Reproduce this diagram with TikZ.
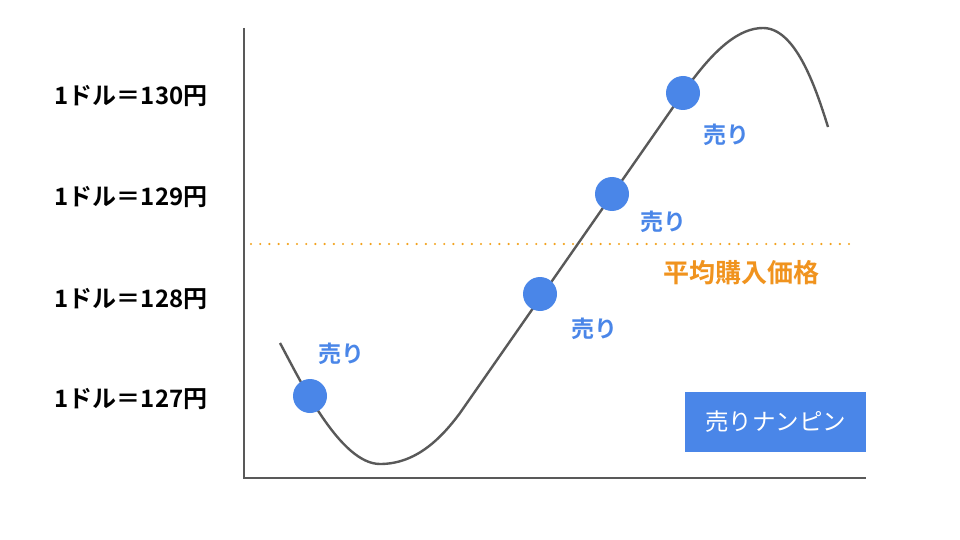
\documentclass[tikz,border=0pt]{standalone}
\usepackage{fontspec}
\newfontfamily\jp{Noto Sans CJK JP}
\newfontfamily\jpb{Noto Sans CJK JP Bold}
\definecolor{axisgray}{HTML}{595959}
\definecolor{dotblue}{HTML}{4A86E8}
\definecolor{avgorange}{HTML}{F2A21D}
\definecolor{avgtext}{HTML}{F0931E}
\tikzset{
  axis/.style={draw=axisgray, line width=2.6pt},
  curve/.style={draw=axisgray, line width=2.4pt},
  sell/.style={circle, fill=dotblue, minimum size=34pt, inner sep=0pt},
  selllabel/.style={text=dotblue, font=\jpb\fontsize{23}{23}\selectfont, inner sep=0pt},
  ylabel/.style={text=black, font=\jpb\fontsize{24}{24}\selectfont, inner sep=0pt},
  avgline/.style={draw=avgorange, line width=2.4pt, dash pattern=on 0pt off 9.2pt, line cap=round},
  avglabel/.style={text=avgtext, font=\jpb\fontsize{26}{26}\selectfont, inner sep=0pt},
  badge/.style={fill=dotblue, text=white, font=\jp\fontsize{23.5}{23.5}\selectfont, minimum width=181pt, minimum height=60pt, inner sep=0pt}
}
\begin{document}
\begin{tikzpicture}[x=1pt,y=-1pt]
\useasboundingbox (0,0) rectangle (960,540);
% axes
\coordinate (top) at (244,28);
\coordinate (origin) at (244,478);
\coordinate (right) at (866,478);
\draw[axis] (top) -- (origin) -- (right);
% y labels
\node[ylabel] (l130) at (131,96) {1ドル＝130円};
\node[ylabel] (l129) at (131,197) {1ドル＝129円};
\node[ylabel] (l128) at (131,299) {1ドル＝128円};
\node[ylabel] (l127) at (131,399) {1ドル＝127円};
% average line
\coordinate (avgL) at (251,244);
\coordinate (avgR) at (856,244);
\draw[avgline] (avgL) -- (avgR);
\node[avglabel] (avg) at (741,273) {平均購入価格};
% curve
\coordinate (c0) at (280,343);
\coordinate (cmin) at (380,464);
\coordinate (cup) at (460,413);
\coordinate (chi) at (683,93);
\coordinate (cpeak) at (763,28);
\coordinate (cend) at (828,127);
\draw[curve] (c0) .. controls (300,380) and (340,464) .. (cmin)
  .. controls (415,464) and (440,440) .. (cup)
  -- (chi)
  .. controls (715,47) and (740,28) .. (cpeak)
  .. controls (795,28) and (815,85) .. (cend);
% sell points
\node[sell] (s1) at (310,396) {};
\node[sell] (s2) at (540,294) {};
\node[sell] (s3) at (612,194) {};
\node[sell] (s4) at (683,93) {};
\node[selllabel] (t1) at (341,354) {売り};
\node[selllabel] (t2) at (594,329) {売り};
\node[selllabel] (t3) at (663,222) {売り};
\node[selllabel] (t4) at (726,135) {売り};
% badge
\node[badge] (nb) at (775.5,422) {売りナンピン};
\end{tikzpicture}
\end{document}
